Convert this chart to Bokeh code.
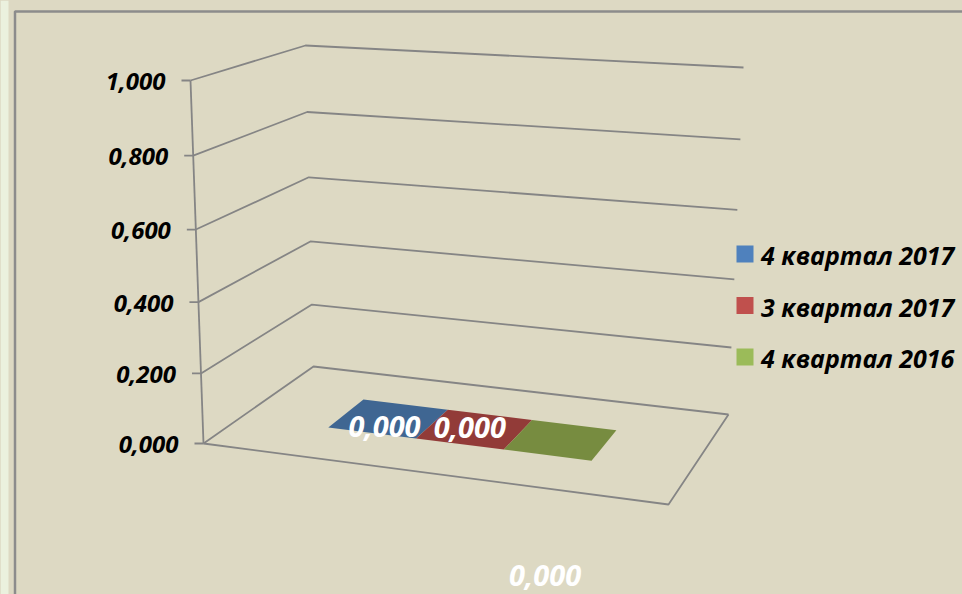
from bokeh.plotting import figure
from bokeh.models import Range1d
from bokeh.core.properties import value
from bokeh.embed import file_html
from bokeh.resources import INLINE

# ---- data ----
series = ["4 квартал 2017", "3 квартал 2017", "4 квартал 2016"]
values = [0.0, 0.0, 0.0]
y_ticks = [0.0, 0.2, 0.4, 0.6, 0.8, 1.0]
y_max = 1.0

def fmt(v):
    return f"{v:.3f}".replace(".", ",")

tick_labels = [fmt(t) for t in y_ticks]
data_labels = [fmt(v) for v in values]

# ---- style ----
BG = "#DDD9C3"
PAGE = "#EBF1DE"
GRID = "#858585"
TOP_COLORS = ["#3F6692", "#923B38", "#778C40"]
FRONT_COLORS = ["#38598A", "#84322F", "#6A7F38"]
SIDE_COLORS = ["#2F4C74", "#702A28", "#5A6B30"]
LEG_COLORS = ["#4F81BD", "#C0504D", "#9BBB59"]
FONT = value("Open Sans")
FSTYLE = "bold italic"

# ---- 3D perspective frame (screen pixels) ----
FL0, FR0, BL0, BR0 = (203, 443), (668, 504), (313, 366), (728, 414)
FL1, FR1, BL1, BR1 = (190, 80), (686, 112), (305, 45), (743, 67)
PERSP = 0.957
GAP = 2.1            # gap width relative to bar width
CLUSTER_SHIFT = -0.013
W0, W1 = 0.35, 0.70  # bar depth range


def bil(a, b, c, d, u, w):
    x = (1-u)*(1-w)*a[0] + u*(1-w)*b[0] + (1-u)*w*c[0] + u*w*d[0]
    y = (1-u)*(1-w)*a[1] + u*(1-w)*b[1] + (1-u)*w*c[1] + u*w*d[1]
    return x, y


def proj(u, w, h):
    hf = PERSP*h/(1-(1-PERSP)*h)
    x0, y0 = bil(FL0, FR0, BL0, BR0, u, w)
    x1, y1 = bil(FL1, FR1, BL1, BR1, u, w)
    return x0 + hf*(x1-x0), y0 + hf*(y1-y0)


p = figure(width=962, height=594, x_range=Range1d(0, 962), y_range=Range1d(594, 0),
           output_backend="svg", toolbar_location=None, min_border=0,
           x_axis_type=None, y_axis_type=None)
p.grid.visible = False
p.outline_line_color = None
p.background_fill_color = BG
p.border_fill_color = BG

# page strip at left and chart area border
p.quad(left=[0], right=[8], top=[0], bottom=[600], fill_color=PAGE, line_color=None)
p.line(x=[14.5, 14.5, 1000], y=[1000, 11, 11], line_color="#8C8C8C", line_width=2.5)

# gridlines on side wall and back wall
xs, ys = [], []
for t in y_ticks:
    h = t / y_max
    a = proj(0, 0, h); b = proj(0, 1, h); c = proj(1, 1, h)
    xs.append([a[0], b[0], c[0]]); ys.append([a[1], b[1], c[1]])
a = proj(0, 0, 0); b = proj(1, 0, 0); c = proj(1, 1, 0)
xs.append([a[0], b[0], c[0]]); ys.append([a[1], b[1], c[1]])
a = proj(0, 0, 0); b = proj(0, 0, 1)
xs.append([a[0], b[0]]); ys.append([a[1], b[1]])
for t in y_ticks:
    a = proj(0, 0, t / y_max)
    xs.append([a[0]-9, a[0]]); ys.append([a[1], a[1]])
p.multi_line(xs=xs, ys=ys, line_color=GRID, line_width=1.8)

# tick labels
tx, ty = [], []
for t in y_ticks:
    a = proj(0, 0, t / y_max)
    tx.append(a[0]-25); ty.append(a[1]+1)
p.text(x=tx, y=ty, text=tick_labels, text_font=FONT, text_font_style=FSTYLE,
       text_font_size="24px", text_align="right", text_baseline="middle", text_color="black")

# bars
n = len(values)
sw = 1.0 / (n + GAP)
u_start = GAP * sw / 2 + CLUSTER_SHIFT
faces_x, faces_y, faces_c = [], [], []
centers = []
for i, v in enumerate(values):
    u0 = u_start + i*sw; u1 = u0 + sw
    h = v / y_max
    front = [proj(u0, W0, 0), proj(u1, W0, 0), proj(u1, W0, h), proj(u0, W0, h)]
    side = [proj(u1, W0, 0), proj(u1, W1, 0), proj(u1, W1, h), proj(u1, W0, h)]
    top = [proj(u0, W0, h), proj(u1, W0, h), proj(u1, W1, h), proj(u0, W1, h)]
    for poly, col in ((side, SIDE_COLORS[i]), (front, FRONT_COLORS[i]), (top, TOP_COLORS[i])):
        faces_x.append([q[0] for q in poly]); faces_y.append([q[1] for q in poly]); faces_c.append(col)
    centers.append(proj((u0+u1)/2, 0.5, h))
p.patches(xs=faces_x, ys=faces_y, fill_color=faces_c, line_color=None)

# data labels
NUDGE_X = [-2, -3, -14]
NUDGE_Y = [6, -4, 133]
lx = [c[0] + dx for c, dx in zip(centers, NUDGE_X)]
ly = [c[1] + dy for c, dy in zip(centers, NUDGE_Y)]
p.text(x=lx, y=ly, text=data_labels, text_font=FONT, text_font_style=FSTYLE,
       text_font_size="29px", text_align="center", text_baseline="middle", text_color="white")

# legend
LEG_X, LEG_Y0, LEG_DY = 744.5, 253.5, 51.5
leg_y = [LEG_Y0 + i*LEG_DY for i in range(n)]
p.rect(x=[LEG_X]*n, y=leg_y, width=17, height=17, fill_color=LEG_COLORS, line_color=None)
p.text(x=[LEG_X + 16]*n, y=[yy + 1 for yy in leg_y], text=series, text_font=FONT,
       text_font_style=FSTYLE, text_font_size="25px", text_align="left",
       text_baseline="middle", text_color="black")

html = file_html(p, INLINE, title="chart")
html = html.replace("<head>", "<head><style>html{background:#DDD9C3;}</style>", 1)
open("out.html", "w").write(html)
